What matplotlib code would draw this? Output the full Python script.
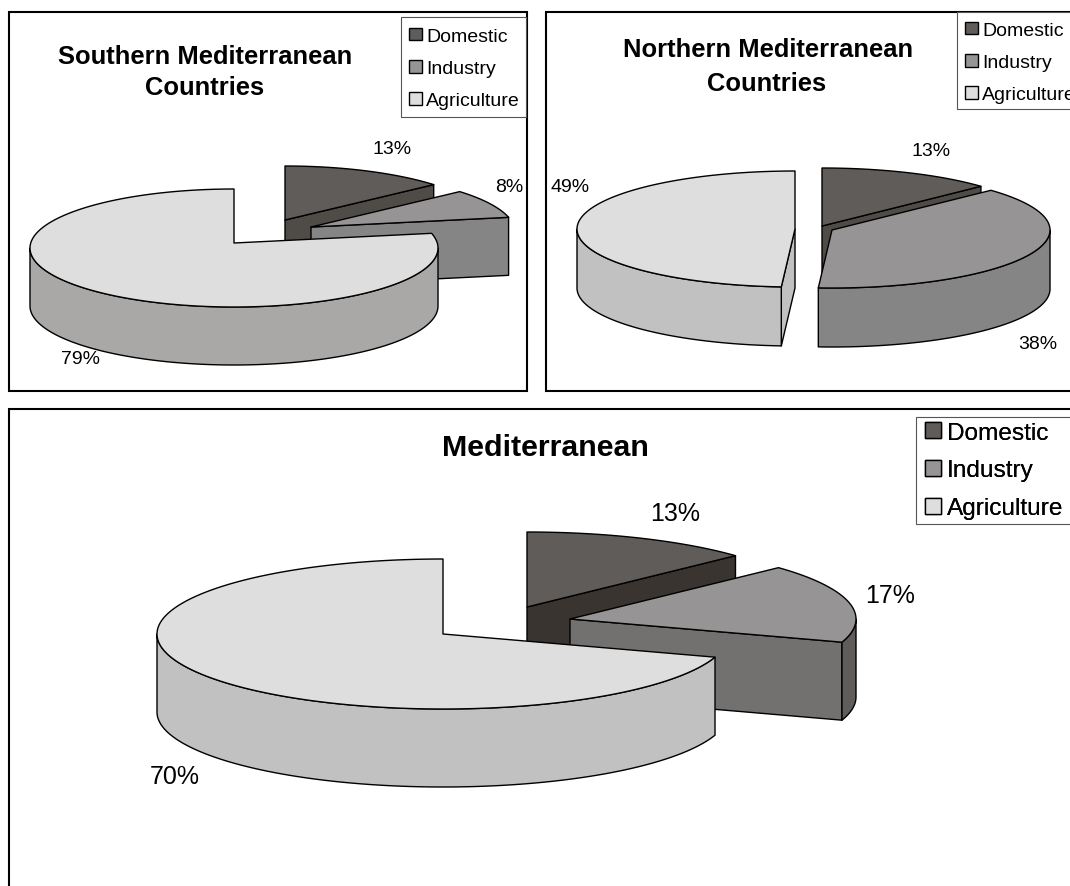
import numpy as np
from matplotlib import pyplot as plt
from matplotlib.patches import Polygon, Rectangle

plt.rcParams['font.family'] = ['Liberation Sans', 'DejaVu Sans']

categories = ['Domestic', 'Industry', 'Agriculture']
south_values = [13, 8, 79]
north_values = [13, 38, 49]
med_values = [13, 17, 70]

top_colors = ['#5f5c5a', '#969494', '#dedede']
edge = '#000000'


def arc(cx, cy, rx, ry, a0, a1):
    # angles run clockwise from 12 o'clock
    t = np.radians(np.linspace(a0, a1, max(int(abs(a1 - a0)), 2) + 1))
    return np.column_stack([cx + rx * np.sin(t), cy - ry * np.cos(t)])


def face_visible(apex, tip, inner):
    # a cut face shows when the slice top lies above the cut on screen
    dx = tip[0] - apex[0]
    dy = tip[1] - apex[1]
    if abs(dx) < 1e-6:
        return False
    return inner[1] < apex[1] + dy * (inner[0] - apex[0]) / dx


def draw_pie(ax, values, centres, rx, ry, depth, lift, face_colors, wall_colors):
    start = 0.0
    for i, v in enumerate(values):
        stop = start + v * 3.6
        cx, cy = centres[i]
        apex = np.array([cx, cy - lift])
        rim = arc(cx, cy, rx, ry, start, stop)
        drop = np.array([0, depth])
        mid = arc(cx, cy, rx * 0.5, ry * 0.5, (start + stop) / 2, (start + stop) / 2)[0]

        # cut faces first, then the outer wall, then the top
        for tip in (rim[0], rim[-1]):
            if face_visible(apex, tip, mid):
                pts = [apex, tip, tip + drop, apex + drop]
                ax.add_patch(Polygon(pts, fc=face_colors[i], ec=edge, lw=1.0, joinstyle='round'))
        w0, w1 = max(start, 90.0), min(stop, 270.0)
        if w1 > w0:
            front = arc(cx, cy, rx, ry, w0, w1)
            pts = np.vstack([front, front[::-1] + drop])
            ax.add_patch(Polygon(pts, fc=wall_colors[i], ec=edge, lw=1.0, joinstyle='round'))
        ax.add_patch(Polygon(np.vstack([apex, rim]), fc=top_colors[i], ec=edge, lw=1.0, joinstyle='round'))
        start = stop


def add_legend(ax, frame, x, y, size, spacing):
    fx, fy, fw, fh = frame
    ax.add_patch(Rectangle((fx, fy), fw, fh, fc='white', ec='#555555', lw=0.8, zorder=3))
    handles = [Rectangle((0, 0), 1, 1, fc=c, ec='black', lw=1.0) for c in top_colors]
    leg = ax.legend(handles, categories, loc='upper left', bbox_to_anchor=(x, y),
                    bbox_transform=ax.transData, fontsize=size, frameon=False, borderpad=0,
                    labelspacing=spacing, handlelength=0.65, handleheight=0.65,
                    handletextpad=0.24, borderaxespad=0)
    leg.set_zorder(4)
    ax.add_artist(leg)


fig = plt.figure(figsize=(10.7, 8.87), dpi=100)
ax = fig.add_axes([0, 0, 1, 1])
ax.set_xlim(0, 1070)
ax.set_ylim(887, 0)
ax.axis('off')

# panel frames, two of them run off the page
for x, y, w, h in [(9, 13, 518, 379), (546, 13, 540, 379), (9, 410, 1080, 500)]:
    ax.add_patch(Rectangle((x, y), w, h, fc='white', ec='black', lw=1.5))

# southern countries
draw_pie(ax, south_values, [(285, 226), (311, 233), (234, 249)], 204, 59, 58, 5,
         ['#4f4b47', '#858585', '#a9a8a6'], ['#4f4b47', '#858585', '#a9a8a6'])
ax.text(205, 57, 'Southern Mediterranean', ha='center', va='center', fontsize=18.4, fontweight='bold')
ax.text(205, 88, 'Countries', ha='center', va='center', fontsize=18.4, fontweight='bold')
for v, x, y in zip(south_values, [392, 509, 80], [149, 187, 360]):
    ax.text(x, y, f'{v}%', ha='center', va='center', fontsize=14)
add_legend(ax, (401, 18, 125, 100), 409, 28.5, 14, 0.76)

# northern countries
draw_pie(ax, north_values, [(822, 227), (832, 231), (795, 230)], 218, 58, 59, 0,
         ['#4f4b47', '#858585', '#c1c1c1'], ['#4f4b47', '#858585', '#c1c1c1'])
ax.text(768, 50, 'Northern Mediterranean', ha='center', va='center', fontsize=18.4, fontweight='bold')
ax.text(767, 84, 'Countries', ha='center', va='center', fontsize=18.4, fontweight='bold')
for v, x, y in zip(north_values, [931, 1038, 570], [151, 345, 188]):
    ax.text(x, y, f'{v}%', ha='center', va='center', fontsize=14)
add_legend(ax, (957, 13, 130, 97), 965, 22.5, 14, 0.76)

# whole basin
draw_pie(ax, med_values, [(527, 608), (570, 620), (443, 635)], 286, 75, 78, 0,
         ['#3a3431', '#727170', '#c1c1c1'], ['#3a3431', '#5f5c5a', '#c1c1c1'])
ax.text(545, 448, 'Mediterranean', ha='center', va='center', fontsize=21.9, fontweight='bold')
for v, x, y in zip(med_values, [675, 890, 175], [514, 596, 777]):
    ax.text(x, y, f'{v}%', ha='center', va='center', fontsize=18)
add_legend(ax, (916, 418, 170, 107), 925, 422.6, 17.6, 0.65)

fig.savefig('out.png', dpi=100)
